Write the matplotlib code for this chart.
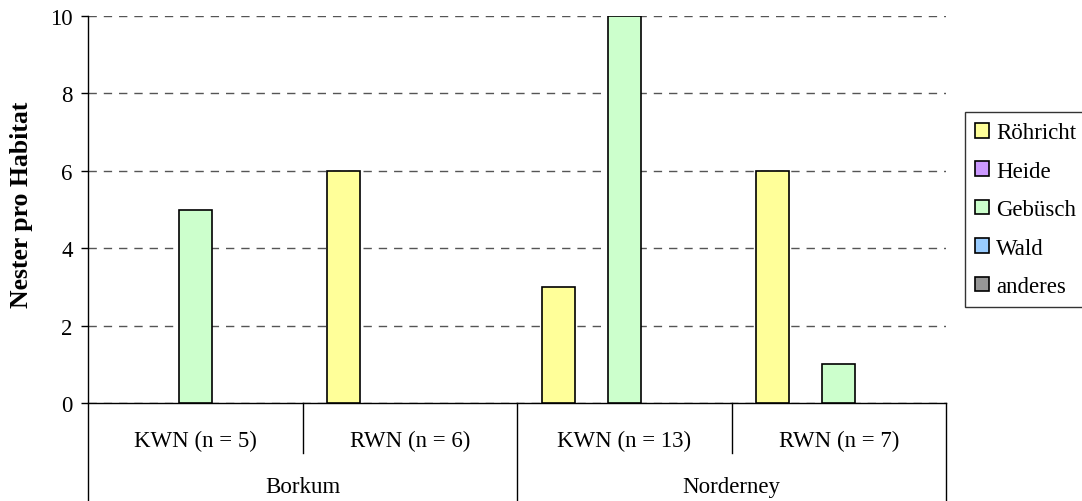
import numpy as np
import matplotlib.pyplot as plt
from matplotlib.patches import Patch
from matplotlib.transforms import blended_transform_factory

plt.rcParams['font.family'] = ['Liberation Serif', 'DejaVu Serif']

# Daten
sub_labels = ['KWN (n = 5)', 'RWN (n = 6)', 'KWN (n = 13)', 'RWN (n = 7)']
islands = ['Borkum', 'Norderney']
habitats = ['Röhricht', 'Heide', 'Gebüsch', 'Wald', 'anderes']
roehricht = [0, 6, 3, 6]
heide = [0, 0, 0, 0]
gebuesch = [5, 0, 10, 1]
wald = [0, 0, 0, 0]
anderes = [0, 0, 0, 0]
colors = ['#FFFF99', '#CC99FF', '#CCFFCC', '#99CCFF', '#969696']

series = [roehricht, heide, gebuesch, wald, anderes]

fig = plt.figure(figsize=(10.82, 5.02), dpi=100)
W, H = 1082, 502
left, right, top, bottom = 88, 946, 17, 404
ax = fig.add_axes([left / W, 1 - bottom / H, (right - left) / W, (bottom - top) / H])

x = np.arange(len(sub_labels))
w = 0.154
handles = []
for i, (vals, c, name) in enumerate(zip(series, colors, habitats)):
    b = ax.bar(x + (i - 2) * w, vals, width=w, color=c, edgecolor='black',
               linewidth=1.2, label=name, zorder=3)
    # leere Balken nicht zeichnen
    for p, v in zip(b.patches, vals):
        if v == 0:
            p.set_visible(False)
    handles.append(Patch(facecolor=c, edgecolor='black', linewidth=1.2))

ax.set_xlim(-0.5, len(sub_labels) - 0.5)
ax.set_ylim(0, 10)
ax.set_yticks([0, 2, 4, 6, 8, 10])
ax.yaxis.grid(True, color='#555555', linestyle=(0, (6, 5)), linewidth=1)
ax.set_axisbelow(True)
ax.set_xticks([])
ax.tick_params(axis='y', direction='out', length=5, width=1, labelsize=16.5, pad=6)

for s in ['top', 'right']:
    ax.spines[s].set_visible(False)
ax.spines['left'].set_visible(False)
ax.spines['bottom'].set_linewidth(1)

# Kategorie-Tabelle unter der Achse
tb_bottom = -(H - bottom) / (bottom - top)
tr = blended_transform_factory(ax.transData, ax.transAxes)
ax.plot([0, 0], [tb_bottom, 1], transform=ax.transAxes, color='black', lw=1, clip_on=False)
short = -(454 - bottom) / (bottom - top)
for xs in [0.5, 2.5]:
    ax.plot([xs, xs], [0, short], transform=tr, color='black', lw=1, clip_on=False)
for xs in [1.5, 3.5]:
    ax.plot([xs, xs], [0, tb_bottom], transform=tr, color='black', lw=1, clip_on=False)

y_sub = -(441 - bottom) / (bottom - top)
y_isl = -(488 - bottom) / (bottom - top)
for xi, lab in zip(x, sub_labels):
    ax.text(xi, y_sub, lab, transform=tr, ha='center', va='center', fontsize=16.5)
for xi, lab in zip([0.5, 2.5], islands):
    ax.text(xi, y_isl, lab, transform=tr, ha='center', va='center', fontsize=16.5)

fig.text(22 / W, 1 - 205 / H, 'Nester pro Habitat', rotation=90, ha='center',
         va='center', fontsize=18.5, fontweight='bold')

leg = fig.legend(handles=handles, labels=habitats, loc='upper left',
                 bbox_to_anchor=(965 / W, 1 - 113 / H), borderaxespad=0,
                 fontsize=16.5, frameon=True, fancybox=False, edgecolor='black',
                 handlelength=0.6, handleheight=0.6, handletextpad=0.3,
                 labelspacing=0.76, borderpad=0.45)
leg.get_frame().set_linewidth(1)

fig.savefig('out.png', dpi=100)
